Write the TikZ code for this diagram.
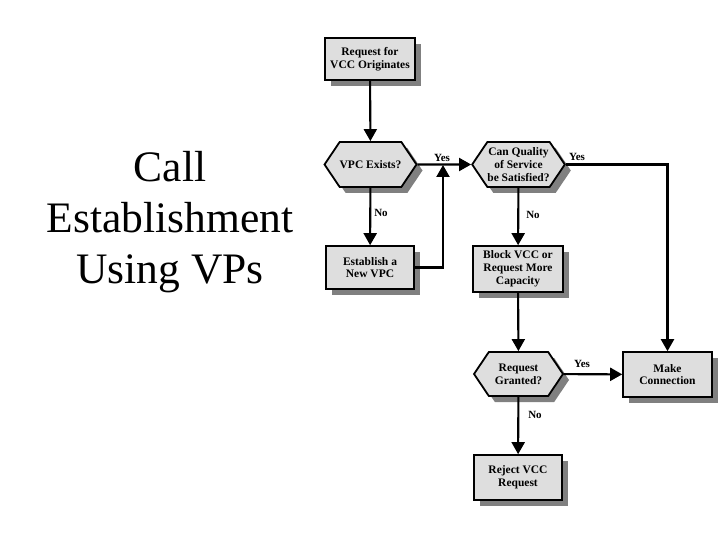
\documentclass[tikz,border=0pt]{standalone}
\usepackage{fontspec}
\setmainfont{Liberation Serif}
\usetikzlibrary{arrows.meta,shapes.symbols,shadows}
\begin{document}
\begin{tikzpicture}[x=1pt,y=-1pt,
  shad/.style={drop shadow={shadow xshift=6pt,shadow yshift=-6pt,fill=black!50,opacity=1}},
  boxnode/.style={draw=black,line width=1.6pt,fill=black!13,shad,minimum width=90pt,minimum height=44pt,inner sep=0pt,align=center,font=\fontsize{11.5}{12.8}\selectfont\bfseries},
  hexnode/.style={signal,signal to=west and east,signal pointer angle=112,draw=black,line width=1.8pt,fill=black!13,shad,minimum width=90pt,minimum height=45pt,inner sep=0pt,align=center,font=\fontsize{11.5}{13}\selectfont\bfseries},
  arr/.style={line width=2.1pt,-{Triangle[length=12pt,width=13pt]}},
  lbl/.style={font=\fontsize{11}{12}\selectfont\bfseries,inner sep=0pt}]
\useasboundingbox (0,0) rectangle (720,540);
\node[align=center,font=\fontsize{43.5}{51}\selectfont] (title) at (170,222) {Call\\Establishment\\Using VPs};
\node[boxnode,minimum height=42pt] (req) at (370,59) {Request for\\VCC Originates};
\node[hexnode] (vpc) at (370.5,164.5) {VPC Exists?};
\node[boxnode,minimum height=43pt,minimum width=88pt] (est) at (370,267.5) {Establish a\\New VPC};
\node[hexnode,minimum width=89pt] (qos) at (518.5,164.5) {Can Quality\\of Service\\be Satisfied?};
\node[boxnode,minimum height=46pt] (block) at (518,269) {Block VCC or\\Request More\\Capacity};
\node[hexnode,minimum width=89pt,minimum height=44pt] (grant) at (518.5,374) {Request\\Granted?};
\node[boxnode,minimum width=89pt,minimum height=45pt] (make) at (667.5,374.5) {Make\\Connection};
\node[boxnode,minimum width=88pt,minimum height=45pt] (reject) at (518,477.5) {Reject VCC\\Request};
\coordinate (j) at (443,165);
\draw[arr] (req) -- (vpc);
\draw[arr] (vpc) -- (est);
\draw[arr] (vpc) -- (qos);
\draw[arr] (est.east) -| (j);
\draw[arr] (qos.east) -| (make.north);
\draw[arr] (qos) -- (block);
\draw[arr] (block) -- (grant);
\draw[arr] (grant) -- (make);
\draw[arr] (grant) -- (reject);
\node[lbl] (y1) at (442,158) {Yes};
\node[lbl] (n1) at (381,213) {No};
\node[lbl] (y2) at (577,157) {Yes};
\node[lbl] (n2) at (533,215) {No};
\node[lbl] (y3) at (582,364) {Yes};
\node[lbl] (n3) at (535,415) {No};
\end{tikzpicture}
\end{document}
